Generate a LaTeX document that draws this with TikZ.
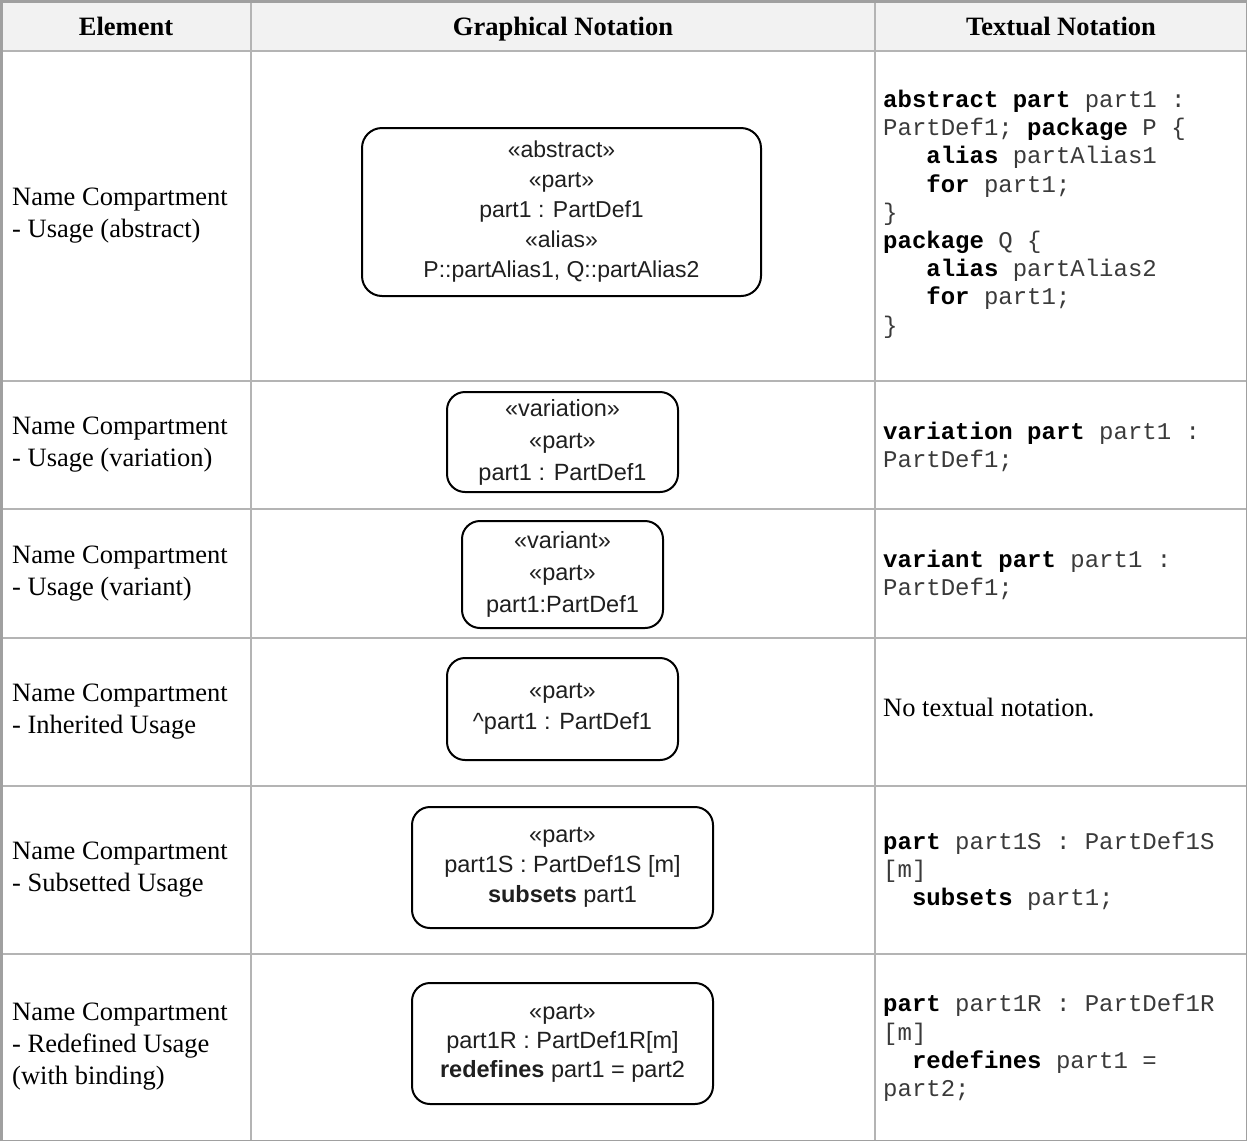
\documentclass[tikz,border=0pt]{standalone}
\usepackage{fontspec}
\setmainfont{Liberation Serif}
\setsansfont{Liberation Sans}
\setmonofont{Liberation Mono}
\definecolor{gridc}{HTML}{B4B4B4}
\definecolor{edgec}{HTML}{A0A0A0}
\definecolor{headbg}{HTML}{F2F2F2}
\definecolor{codec}{HTML}{3A3A3A}
\newcommand\kw[1]{\textbf{\color{black}#1}}
\tikzset{
  hdr/.style={anchor=base, font=\fontsize{26.5}{32}\selectfont\bfseries, inner sep=0pt},
  elem/.style={anchor=west, align=left, font=\fontsize{26.5}{32}\selectfont, inner sep=0pt},
  code/.style={anchor=west, align=left, font=\ttfamily\fontsize{24}{28.2}\selectfont, text=codec, inner sep=0pt},
  usage/.style={draw, line width=2pt, rounded corners=18pt, align=center, inner sep=0pt, text=black!88},
  usagefont/.style={font=\sffamily\fontsize{23.5}{#1}\selectfont},
  gridline/.style={draw=gridc, line width=1.5pt},
}
\begin{document}
\begin{tikzpicture}[x=1pt, y=-1pt]
\useasboundingbox (0,0) rectangle (1247,1141);
% header background
\fill[headbg] (0,0) rectangle (1247,51);
% grid
\path[gridline] (251,0) -- (251,1141) (875,0) -- (875,1141);
\path[gridline] (0,51) -- (1247,51) (0,381) -- (1247,381) (0,509) -- (1247,509)
  (0,638) -- (1247,638) (0,786) -- (1247,786) (0,954) -- (1247,954);
% outer border
\draw[edgec, line width=1.5pt] (1246.25,0) -- (1246.25,1140.25) -- (0,1140.25);
\draw[edgec, line width=3pt] (1.5,1141) -- (1.5,1.5) -- (1247,1.5);

% headers
\node[hdr] (h1) at (126,35.5) {Element};
\node[hdr] (h2) at (563,35.5) {Graphical Notation};
\node[hdr] (h3) at (1061,35.5) {Textual Notation};

% element column
\node[elem] (e1) at (12,216) {Name Compartment\\- Usage (abstract)};
\node[elem] (e2) at (12,445) {Name Compartment\\- Usage (variation)};
\node[elem] (e3) at (12,573.5) {Name Compartment\\- Usage (variant)};
\node[elem] (e4) at (12,712) {Name Compartment\\- Inherited Usage};
\node[elem] (e5) at (12,870) {Name Compartment\\- Subsetted Usage};
\node[elem] (e6) at (12,1047) {Name Compartment\\- Redefined Usage\\(with binding)};

% graphical notation
\node[usage, usagefont=30, minimum width=399pt, minimum height=168pt, rounded corners=20pt,
  font=\sffamily\fontsize{23}{30}\selectfont] (b1) at (561.5,212)
  {«abstract»\\«part»\\part1 : PartDef1\\«alias»\\P::partAlias1, Q::partAlias2};
\node[usage, usagefont=32, minimum width=231pt, minimum height=100pt] (b2) at (562.5,442)
  {«variation»\\«part»\\part1 : PartDef1};
\node[usage, usagefont=32, minimum width=201pt, minimum height=107pt] (b3) at (562.5,574.5)
  {«variant»\\«part»\\part1:PartDef1};
\node[usage, usagefont=31, minimum width=231pt, minimum height=102pt] (b4) at (562.5,709)
  {«part»\\\textasciicircum part1 : PartDef1};
\node[usage, usagefont=30, minimum width=301pt, minimum height=121pt] (b5) at (562.5,867.5)
  {«part»\\part1S : PartDef1S [m]\\\textbf{subsets} part1};
\node[usage, usagefont=29, minimum width=301pt, minimum height=121pt] (b6) at (562.5,1043.5)
  {«part»\\part1R : PartDef1R[m]\\\textbf{redefines} part1 = part2};

% textual notation
\node[code] (c1) at (883,214) {\kw{abstract part} part1 :\\PartDef1; \kw{package} P \{\\\ \ \ \kw{alias} partAlias1\\\ \ \ \kw{for} part1;\\\}\\\kw{package} Q \{\\\ \ \ \kw{alias} partAlias2\\\ \ \ \kw{for} part1;\\\}};
\node[code] (c2) at (883,447) {\kw{variation part} part1 :\\PartDef1;};
\node[code] (c3) at (883,575) {\kw{variant part} part1 :\\PartDef1;};
\node[elem] (c4) at (883,707) {No textual notation.};
\node[code] (c5) at (883,871) {\kw{part} part1S : PartDef1S\\{}[m]\\\ \ \kw{subsets} part1;};
\node[code] (c6) at (883,1048) {\kw{part} part1R : PartDef1R\\{}[m]\\\ \ \kw{redefines} part1 =\\part2;};
\end{tikzpicture}
\end{document}
